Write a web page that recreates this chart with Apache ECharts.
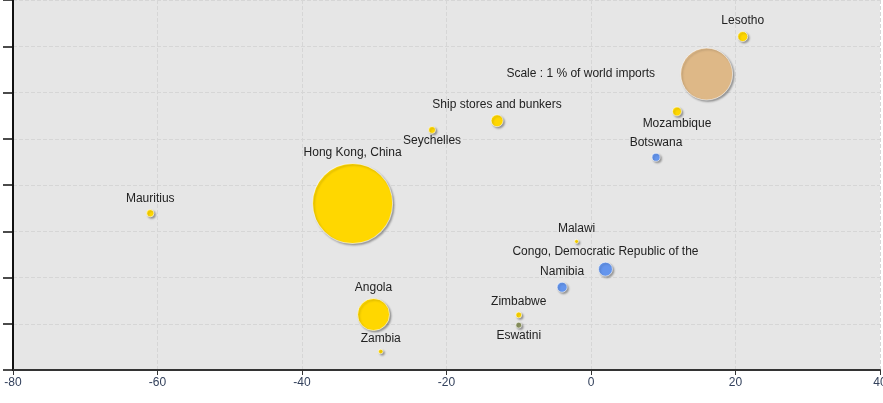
<!DOCTYPE html>
<html>
<head>
<meta charset="utf-8">
<script src="https://cdn.jsdelivr.net/npm/echarts@6/dist/echarts.min.js"></script>
<style>
  html, body { margin: 0; padding: 0; background: #fff; }
  #chart { width: 883px; height: 403px; }
</style>
</head>
<body>
<div id="chart"></div>
<script>
// partners and their coordinates
const names = ['Lesotho', 'Mozambique', 'Botswana', 'Ship stores and bunkers', 'Seychelles',
  'Hong Kong, China', 'Mauritius', 'Malawi', 'Congo, Democratic Republic of the', 'Namibia',
  'Zimbabwe', 'Eswatini', 'Angola', 'Zambia']
const xVals = [21.0, 11.9, 9.0, -13.0, -22.0, -33.0, -61.0, -2.0, 2.0, -4.0, -10.0, -10.0, -30.1, -29.1]
const yVals = [72.1, 55.9, 46.0, 53.9, 51.9, 36.0, 33.9, 27.8, 21.8, 17.9, 11.9, 9.7, 12.0, 4.0]
// share of world imports (%)
const shares = [0.037, 0.03, 0.024, 0.053, 0.018, 2.37, 0.02, 0.006, 0.072, 0.037, 0.013, 0.013, 0.38, 0.008]
const groups = ['y', 'y', 'b', 'y', 'y', 'y', 'y', 'y', 'b', 'b', 'y', 'o', 'y', 'y']
const below = ['Mozambique', 'Seychelles', 'Eswatini']

// scale bubble
const scaleLabel = 'Scale : 1 % of world imports'
const scalePoint = [16.0, 64.0]
const scaleShare = 1

const colors = { y: '#ffd700', b: '#6495ed', o: '#8c9460' }
const unitRadius = 26

let chart = echarts.init(document.getElementById('chart'))

function sizeOf(share) {
  return 2 * unitRadius * Math.sqrt(share)
}

let points = names.map((n, i) => ({
  name: n,
  value: [xVals[i], yVals[i], shares[i]],
  symbolSize: sizeOf(shares[i]),
  itemStyle: { color: colors[groups[i]] },
  label: { position: below.includes(n) ? 'bottom' : 'top', distance: below.includes(n) ? 1 : 4 }
}))

let shadow = {
  borderColor: 'rgba(255,255,255,0.6)',
  borderWidth: 1,
  shadowBlur: 2,
  shadowOffsetX: 1.5,
  shadowOffsetY: 1.5,
  shadowColor: 'rgba(0,0,0,0.35)',
  opacity: 1
}

let labelFont = { color: '#222', fontSize: 12, fontFamily: 'Liberation Sans' }

let option = {
  animation: false,
  backgroundColor: '#fff',
  grid: {
    left: 13, right: 3, top: 0, bottom: 33,
    outerBoundsMode: 'none',
    show: true, backgroundColor: '#e6e6e6', borderWidth: 0
  },
  xAxis: {
    type: 'value',
    min: -80, max: 40, interval: 20,
    axisLine: { show: true, onZero: false, lineStyle: { color: '#333', width: 2 } },
    axisTick: { show: true, length: 5, lineStyle: { color: '#333' } },
    axisLabel: { color: '#33415c', fontSize: 12, fontFamily: 'Liberation Sans', margin: 7 },
    splitLine: { show: true, lineStyle: { color: '#d6d6d6', type: 'dashed' } }
  },
  yAxis: {
    type: 'value',
    min: 0, max: 80, interval: 10,
    axisLine: { show: true, onZero: false, lineStyle: { color: '#111', width: 2 } },
    axisTick: { show: true, length: 10, lineStyle: { color: '#111', width: 1.5 } },
    axisLabel: { show: false },
    splitLine: { show: true, lineStyle: { color: '#d6d6d6', type: 'dashed' } }
  },
  series: [
    {
      type: 'scatter',
      data: [{
        name: scaleLabel,
        value: [scalePoint[0], scalePoint[1], scaleShare],
        symbolSize: sizeOf(scaleShare)
      }],
      itemStyle: Object.assign({ color: '#deb887' }, shadow),
      label: Object.assign({ show: true, position: 'left', distance: 25, formatter: '{b}' }, labelFont)
    },
    {
      type: 'scatter',
      data: points,
      itemStyle: shadow,
      label: Object.assign({ show: true, formatter: '{b}' }, labelFont),
      labelLayout: { hideOverlap: false }
    }
  ]
}

chart.setOption(option)
</script>
</body>
</html>
